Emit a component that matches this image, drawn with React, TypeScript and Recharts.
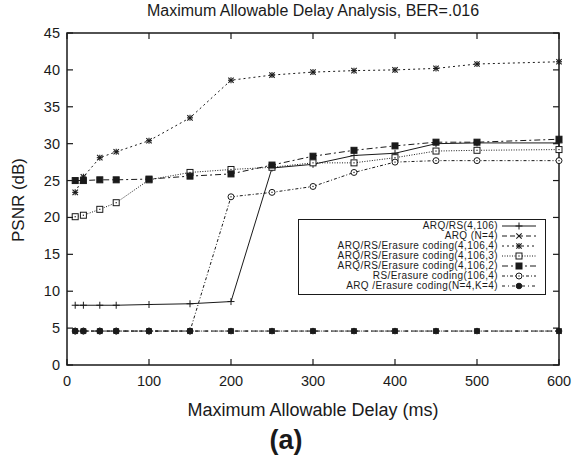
import React from "react";
import { LineChart, Line, XAxis, YAxis, ReferenceArea } from "recharts";

const delays = [10, 20, 40, 60, 100, 150, 200, 250, 300, 350, 400, 450, 500, 600];
const arqRs = [8.1, 8.1, 8.1, 8.1, 8.2, 8.3, 8.6, 26.7, 27.2, 28.4, 28.7, 30.0, 30.1, 30.1];
const arqOnly = [4.6, 4.6, 4.6, 4.6, 4.6, 4.6, 4.6, 4.6, 4.6, 4.6, 4.6, 4.6, 4.6, 4.6];
const erasure4 = [23.4, 25.5, 28.1, 28.9, 30.4, 33.5, 38.6, 39.3, 39.7, 39.9, 40.0, 40.2, 40.8, 41.1];
const erasure3 = [20.1, 20.3, 21.1, 22.0, 25.1, 26.1, 26.5, 26.8, 27.4, 27.4, 28.1, 29.0, 29.1, 29.2];
const erasure2 = [25.0, 25.0, 25.1, 25.1, 25.2, 25.6, 25.9, 27.1, 28.3, 29.1, 29.7, 30.2, 30.2, 30.6];
const rsErasure = [4.6, 4.6, 4.6, 4.6, 4.6, 4.6, 22.8, 23.4, 24.2, 26.1, 27.5, 27.7, 27.7, 27.7];
const arqErasure = [4.6, 4.6, 4.6, 4.6, 4.6, 4.6, 4.6, 4.6, 4.6, 4.6, 4.6, 4.6, 4.6, 4.6];

const xTicks = [0, 100, 200, 300, 400, 500, 600];
const yTicks = [0, 5, 10, 15, 20, 25, 30, 35, 40, 45];

const data = delays.map((d, i) => ({
  delay: d,
  arqRs: arqRs[i],
  arqOnly: arqOnly[i],
  erasure4: erasure4[i],
  erasure3: erasure3[i],
  erasure2: erasure2[i],
  rsErasure: rsErasure[i],
  arqErasure: arqErasure[i],
}));

const INK = "#1a1a1a";
const FONT = "'Liberation Sans', Arial, sans-serif";
const PLOT_W = 492;
const PLOT_H = 332;

type Marker = "plus" | "cross" | "star" | "square" | "fsquare" | "circle" | "fcircle";

function drawMarker(kind: Marker, cx: number, cy: number, key?: React.Key) {
  const s = 3;
  switch (kind) {
    case "plus":
      return (
        <g key={key} stroke={INK} strokeWidth={1}>
          <line x1={cx - 3.5} y1={cy} x2={cx + 3.5} y2={cy} />
          <line x1={cx} y1={cy - 3.5} x2={cx} y2={cy + 3.5} />
        </g>
      );
    case "cross":
      return (
        <g key={key} stroke={INK} strokeWidth={1.1}>
          <line x1={cx - 2.7} y1={cy - 2.7} x2={cx + 2.7} y2={cy + 2.7} />
          <line x1={cx - 2.7} y1={cy + 2.7} x2={cx + 2.7} y2={cy - 2.7} />
        </g>
      );
    case "star":
      return (
        <g key={key} stroke={INK} strokeWidth={1.1}>
          <line x1={cx - 2.7} y1={cy - 2.7} x2={cx + 2.7} y2={cy + 2.7} />
          <line x1={cx - 2.7} y1={cy + 2.7} x2={cx + 2.7} y2={cy - 2.7} />
          <line x1={cx - 3} y1={cy} x2={cx + 3} y2={cy} />
          <line x1={cx} y1={cy - 3} x2={cx} y2={cy + 3} />
        </g>
      );
    case "square":
      return (
        <g key={key}>
          <rect x={cx - s} y={cy - s} width={2 * s} height={2 * s} fill="#fff" stroke={INK} strokeWidth={1} />
          <rect x={cx - 0.6} y={cy - 0.6} width={1.2} height={1.2} fill={INK} />
        </g>
      );
    case "fsquare":
      return <rect key={key} x={cx - s} y={cy - s} width={2 * s} height={2 * s} fill={INK} stroke={INK} />;
    case "circle":
      return (
        <g key={key}>
          <circle cx={cx} cy={cy} r={3} fill="#fff" stroke={INK} strokeWidth={1} />
          <rect x={cx - 0.6} y={cy - 0.6} width={1.2} height={1.2} fill={INK} />
        </g>
      );
    case "fcircle":
      return <circle key={key} cx={cx} cy={cy} r={2.8} fill={INK} stroke={INK} />;
  }
}

const series: { key: string; name: string; dash?: string; marker: Marker }[] = [
  { key: "arqRs", name: "ARQ/RS(4,106)", marker: "plus" },
  { key: "arqOnly", name: "ARQ (N=4)", dash: "5 3", marker: "cross" },
  { key: "erasure4", name: "ARQ/RS/Erasure coding(4,106,4)", dash: "2 3", marker: "star" },
  { key: "erasure3", name: "ARQ/RS/Erasure coding(4,106,3)", dash: "1 1.5", marker: "square" },
  { key: "erasure2", name: "ARQ/RS/Erasure coding(4,106,2)", dash: "6 3 2 3", marker: "fsquare" },
  { key: "rsErasure", name: "RS/Erasure coding(106,4)", dash: "3 2 1 2", marker: "circle" },
  { key: "arqErasure", name: "ARQ /Erasure coding(N=4,K=4)", dash: "3 3 1 3", marker: "fcircle" },
];

function XTick(props: any) {
  const { x, y, payload } = props;
  return (
    <g>
      <line x1={x} y1={y} x2={x} y2={y - 6} stroke={INK} strokeWidth={1.2} />
      <line x1={x} y1={y - PLOT_H} x2={x} y2={y - PLOT_H + 6} stroke={INK} strokeWidth={1.2} />
      <text x={x} y={y + 21} textAnchor="middle" fontSize={14.5} fill={INK} fontFamily={FONT}>
        {payload.value}
      </text>
    </g>
  );
}

function YTick(props: any) {
  const { x, y, payload } = props;
  return (
    <g>
      <line x1={x} y1={y} x2={x + 6} y2={y} stroke={INK} strokeWidth={1.2} />
      <line x1={x + PLOT_W - 6} y1={y} x2={x + PLOT_W} y2={y} stroke={INK} strokeWidth={1.2} />
      <text x={x - 7} y={y + 5} textAnchor="end" fontSize={14.5} fill={INK} fontFamily={FONT}>
        {payload.value}
      </text>
    </g>
  );
}

function LegendBox() {
  return (
    <div
      style={{
        position: "absolute",
        left: 298,
        top: 219,
        width: 248,
        height: 76,
        border: `1px solid ${INK}`,
        boxSizing: "border-box",
        background: "#fff",
        fontFamily: FONT,
        fontSize: 10,
        letterSpacing: 0.4,
        color: INK,
        paddingTop: 1,
      }}
    >
      {series.map((s) => (
        <div key={s.key} style={{ display: "flex", alignItems: "center", height: 10, lineHeight: "10px" }}>
          <div style={{ width: 199, textAlign: "right", whiteSpace: "nowrap" }}>{s.name}</div>
          <svg width={36} height={10} style={{ marginLeft: 4 }}>
            <line x1={0} y1={5} x2={34} y2={5} stroke={INK} strokeWidth={1} strokeDasharray={s.dash} />
            {drawMarker(s.marker, 17, 5)}
          </svg>
        </div>
      ))}
    </div>
  );
}

export default function App() {
  return (
    <div style={{ position: "absolute", left: 0, top: 0, width: 572, height: 462, background: "#fff", fontFamily: FONT }}>
      <LineChart width={572} height={462} data={data} margin={{ top: 33, right: 13, bottom: 67, left: 27 }}>
        <XAxis
          dataKey="delay"
          type="number"
          domain={[0, 600]}
          ticks={xTicks}
          height={30}
          tickSize={0}
          tickMargin={0}
          axisLine={false}
          tickLine={false}
          tick={<XTick />}
        />
        <YAxis
          type="number"
          domain={[0, 45]}
          ticks={yTicks}
          width={40}
          tickSize={0}
          tickMargin={0}
          axisLine={false}
          tickLine={false}
          tick={<YTick />}
        />
        <ReferenceArea x1={0} x2={600} y1={0} y2={45} fill="none" fillOpacity={0} stroke={INK} strokeWidth={1.5} />
        {series.map((s) => (
          <Line
            key={s.key}
            dataKey={s.key}
            type="linear"
            stroke={INK}
            strokeWidth={1}
            strokeDasharray={s.dash}
            isAnimationActive={false}
            dot={(p: any) => drawMarker(s.marker, p.cx, p.cy, `${s.key}-${p.index}`)}
            activeDot={false}
          />
        ))}
      </LineChart>
      <LegendBox />
      <div style={{ position: "absolute", left: 0, width: 572, top: 2, textAlign: "center", paddingLeft: 54, boxSizing: "border-box", fontSize: 16, color: INK }}>
        Maximum Allowable Delay Analysis, BER=.016
      </div>
      <div
        style={{
          position: "absolute",
          left: 19,
          top: 200,
          transform: "translate(-50%, -50%) rotate(-90deg)",
          whiteSpace: "nowrap",
          fontSize: 17,
          color: INK,
        }}
      >
        PSNR (dB)
      </div>
      <div style={{ position: "absolute", left: 0, width: 572, top: 400, textAlign: "center", paddingLeft: 54, boxSizing: "border-box", fontSize: 18, color: INK }}>
        Maximum Allowable Delay (ms)
      </div>
      <div style={{ position: "absolute", left: 0, width: 572, top: 425, textAlign: "center", paddingLeft: 0, fontSize: 27, fontWeight: "bold", color: INK }}>
        (a)
      </div>
    </div>
  );
}
